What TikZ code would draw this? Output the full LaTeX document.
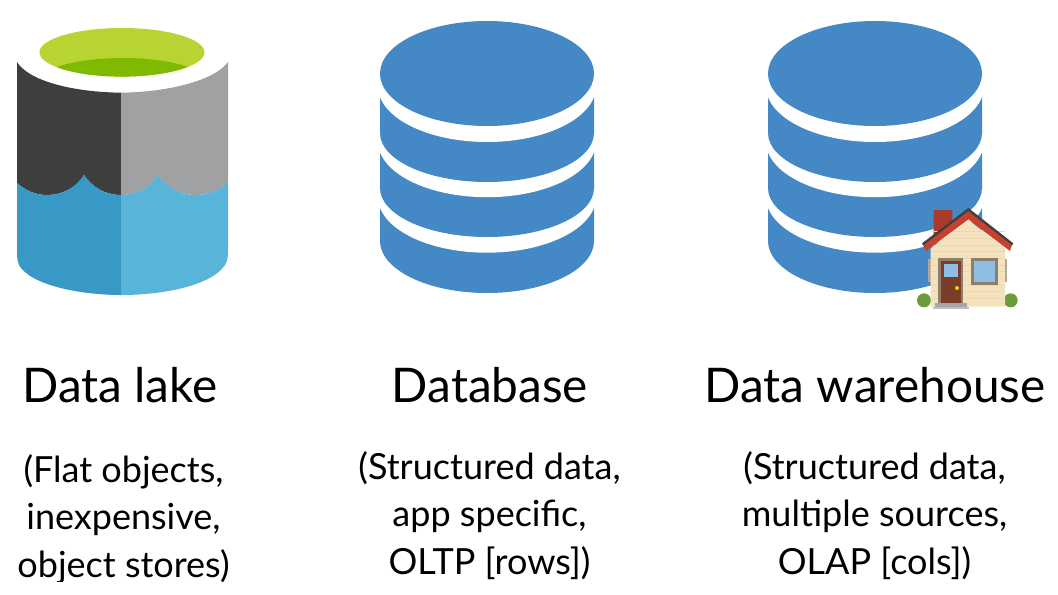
\documentclass[tikz,border=0pt]{standalone}
\usepackage{fontspec}
\setmainfont{Lato}
\usepackage{xcolor}
\usetikzlibrary{positioning}

\definecolor{dbblue}{HTML}{4489C6}
\definecolor{lakegreen}{HTML}{B8D432}
\definecolor{lakedeep}{HTML}{7FBA00}
\definecolor{lakedark}{HTML}{3E3E3E}
\definecolor{lakegrey}{HTML}{A0A1A2}
\definecolor{waterdark}{HTML}{3999C6}
\definecolor{waterlight}{HTML}{59B4D9}
\definecolor{housewall}{HTML}{F3E2BD}
\definecolor{houseline}{HTML}{EBD9B2}
\definecolor{houseroof}{HTML}{C8402F}
\definecolor{housebrick}{HTML}{A93A2C}
\definecolor{houseframe}{HTML}{8F7E6A}
\definecolor{housedoor}{HTML}{7A3E28}
\definecolor{houseglass}{HTML}{8FBDE6}
\definecolor{housebush}{HTML}{6E9A3E}

\tikzset{%
  title/.style={font=\fontsize{35.8}{40}\selectfont,text=black,inner sep=0pt,anchor=base},
  note/.style={font=\fontsize{27}{35.6}\selectfont,text=black,inner sep=0pt,
    align=center,anchor=north},
  dbicon/.pic={%
    \fill[dbblue] (-107,185) -- (-107,241) arc[start angle=180,end angle=0,x radius=107,y radius=52]
      -- (107,185) -- cycle;
    \fill[white] (0,197) ellipse[x radius=109,y radius=55.7];
    \fill[dbblue] (-107,130) -- (-107,188) arc[start angle=180,end angle=0,x radius=107,y radius=49]
      -- (107,130) -- cycle;
    \fill[white] (0,141.5) ellipse[x radius=109,y radius=55.7];
    \fill[dbblue] (-107,74) -- (-107,133) arc[start angle=180,end angle=0,x radius=107,y radius=49]
      -- (107,74) -- cycle;
    \fill[white] (0,86.3) ellipse[x radius=109,y radius=55.7];
    \fill[dbblue] (0,73.5) ellipse[x radius=107,y radius=52.5];
  }
}

\begin{document}
\begin{tikzpicture}[x=0.75pt,y=-0.75pt]
  \useasboundingbox (0,0) rectangle (1058,594);

  % Data lake
  \fill[lakegreen] (122,52.3) ellipse[x radius=82.5,y radius=24.3];
  \begin{scope}
    \clip (122,52.3) ellipse[x radius=82.5,y radius=24.3];
    \fill[lakedeep] (50,70) .. controls (80,55) and (160,53) .. (195,70) -- (195,80) -- (50,80) -- cycle;
  \end{scope}
  \fill[lakedark] (17,62) .. controls (28,80) and (70,92) .. (121,92.7) -- (121,195)
    .. controls (105,195) and (92,187) .. (84,175) .. controls (76,188) and (62,195) .. (47,195)
    .. controls (35,195) and (25,190) .. (17,183) -- cycle;
  \fill[lakegrey] (121,92.7) .. controls (170,92) and (215,80) .. (228,62) -- (228,183)
    .. controls (220,190) and (208,195) .. (195,195) .. controls (180,195) and (166,187) .. (158,175)
    .. controls (150,188) and (136,195) .. (121,195) -- cycle;
  \fill[waterdark] (17,183) .. controls (25,190) and (35,195) .. (47,195)
    .. controls (62,195) and (76,188) .. (84,175) .. controls (92,187) and (105,195) .. (121,195)
    -- (121,295) .. controls (80,295) and (30,285) .. (19,265) .. controls (17,260) and (17,255) .. (17,250) -- cycle;
  \fill[waterlight] (121,195) .. controls (136,195) and (150,188) .. (158,175)
    .. controls (166,187) and (180,195) .. (195,195) .. controls (208,195) and (220,190) .. (228,183)
    -- (228,250) .. controls (228,255) and (228,260) .. (225,265) .. controls (212,285) and (165,295) .. (121,295) -- cycle;

  % Database and warehouse
  \pic at (487,0) {dbicon};
  \pic at (875,0) {dbicon};

  % House
  \begin{scope}[shift={(900,190)},x=0.25pt,y=-0.25pt]
    \fill[housebush] (72,331) circle[radius=21];
    \fill[housebush] (332,331) circle[radius=21];
    \fill[houseframe!70!white] (84,207) rectangle (92,275);
    \fill[houseframe!70!white] (315,207) rectangle (322,275);
    \fill[housebrick] (101,60) -- (157,60) -- (157,110) -- (101,145) -- cycle;
    \fill[housewall] (92,175) -- (205,90) -- (315,175) -- (315,350) -- (92,350) -- cycle;
    \foreach \sy in {125,145,165,185,205,225,245,265,285,305,325}
      \draw[houseline,line width=0.3pt] (92,\sy) -- (315,\sy);
    \fill[black!75] (66,160) -- (205,54) -- (340,160) -- (332,172) -- (205,80) -- (78,180) -- cycle;
    \fill[houseroof] (72,165) -- (205,64) -- (335,165) -- (330,183) -- (205,88) -- (78,183) -- cycle;
    \fill[houseframe] (115,205) rectangle (190,340);
    \fill[housedoor] (123,213) rectangle (183,338);
    \fill[houseglass] (133,222) rectangle (175,262);
    \fill[yellow!70!orange] (171,294) circle[radius=6];
    \fill[houseframe] (213,205) rectangle (295,285);
    \fill[houseglass] (222,214) rectangle (285,275);
    \fill[gray!70] (105,340) rectangle (200,350);
    \fill[gray!50] (98,350) rectangle (207,358);
  \end{scope}

  % Labels
  \node[title] (laketitle) at (120,402) {Data lake};
  \node[title] (dbtitle) at (490,402) {Database};
  \node[title] (dwtitle) at (875,402) {Data warehouse};

  \begin{scope}
    \clip (0,0) rectangle (1058,581);
    \node[note] (lakenote) at (123.5,454) {(Flat objects,\\inexpensive,\\object stores)};
  \end{scope}
  \node[note] (dbnote) at (489.5,451) {(Structured data,\\app specific,\\OLTP [rows])};
  \node[note] (dwnote) at (874.5,451) {(Structured data,\\multiple sources,\\OLAP [cols])};
\end{tikzpicture}
\end{document}
